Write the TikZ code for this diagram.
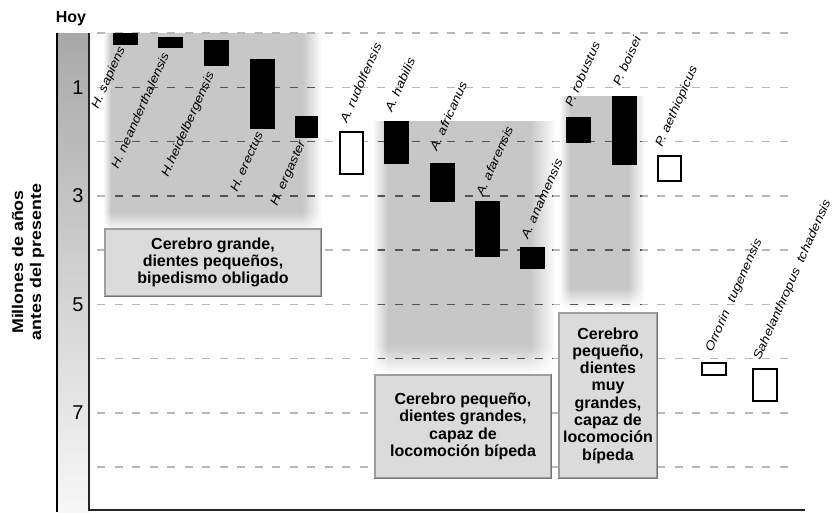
\documentclass[tikz,border=0pt]{standalone}
\usepackage{fontspec}
\setmainfont{Liberation Sans}
\usepackage{graphicx}
\usetikzlibrary{shadings}
\definecolor{shc}{gray}{0.78}
\definecolor{boxc}{gray}{0.86}
\definecolor{boxline}{gray}{0.62}
\definecolor{boxshadow}{gray}{0.45}
\definecolor{gridlight}{gray}{0.72}
\definecolor{griddark}{gray}{0.33}
\tikzset{
  gridl/.style={line width=1.5pt, dash pattern=on 8pt off 9.5pt},
  blackbar/.style={fill=black},
  openbar/.style={draw=black, line width=1.8pt, fill=white},
  lab/.style={rotate=66, anchor=base west, inner sep=0pt, font=\fontsize{12}{14}\selectfont\itshape},
  infobox/.style={draw=boxline, line width=1.2pt, fill=boxc, align=center, inner sep=0pt,
     font=\fontsize{16}{17.3}\selectfont\bfseries},
  boxedge/.style={draw=boxshadow, line width=1.6pt},
  tick/.style={font=\fontsize{20}{22}\selectfont, inner sep=0pt}
}
\newcommand\slab[1]{\scalebox{1.18}[1]{#1}}
% region with faded left, right and bottom edges
% #1 x1, #2 x1 inner, #3 x2 inner, #4 x2, #5 y1, #6 y2 inner, #7 y2
\newcommand\fadedregion[7]{%
  \fill[shc] (#2,#5) rectangle (#3,#6);
  \shade[left color=white, right color=shc] (#1,#5) rectangle (#2,#6);
  \shade[left color=shc, right color=white] (#3,#5) rectangle (#4,#6);
  \shade[top color=shc, bottom color=white] (#2,#6) rectangle (#3,#7);
  \shade[upper right=shc, upper left=white, lower left=white, lower right=white] (#1,#6) rectangle (#2,#7);
  \shade[upper left=shc, upper right=white, lower left=white, lower right=white] (#3,#6) rectangle (#4,#7);
}
\begin{document}
\begin{tikzpicture}[x=1pt,y=-1pt]
\useasboundingbox (0,0) rectangle (833,512);
% axis bar
\shade[top color=gray!68, bottom color=gray!6] (57,33) rectangle (89,512);
\draw[line width=1.2pt] (57,33) -- (57,512);
\draw[line width=1.8pt, black!85] (89,33) -- (89,510) -- (805,510);
% shaded regions
\fadedregion{103}{111}{302}{322}{33}{212}{232}
\fadedregion{372}{388}{530}{556}{121}{345}{374}
\fadedregion{559}{570}{628}{645}{96}{288}{308}
% grid lines
\foreach \t in {0,...,8}{
  \draw[gridl, gridlight] (97,33+54.25*\t) -- (792,33+54.25*\t);
}
\begin{scope}
\clip (107,36) rectangle (320,232) (378,121) rectangle (553,372) (562,96) rectangle (642,306);
\foreach \t in {0,...,8}{
  \draw[gridl, griddark] (97,33+54.25*\t) -- (792,33+54.25*\t);
}
\end{scope}
% axis labels
\node[font=\fontsize{16}{18}\selectfont\bfseries, inner sep=0pt] (hoy) at (71,19) {Hoy};
\node[tick] (t1) at (78,87.25) {1};
\node[tick] (t3) at (78,195.75) {3};
\node[tick] (t5) at (78,304.25) {5};
\node[tick] (t7) at (78,412.75) {7};
\node[rotate=90, align=center, inner sep=0pt, font=\fontsize{15.5}{18}\selectfont\bfseries] (ylab) at (28,262)
  {\scalebox{1.15}[1]{Millones de años}\\\scalebox{1.15}[1]{antes del presente}};
% boxes
\node[infobox, minimum width=216pt, minimum height=67pt] (b1) at (213,262.5)
  {Cerebro grande,\\dientes pequeños,\\bipedismo obligado};
\node[infobox, minimum width=176pt, minimum height=103pt] (b2) at (463,426.5)
  {Cerebro pequeño,\\dientes grandes,\\capaz de\\locomoción bípeda};
\node[infobox, minimum width=98pt, minimum height=165pt] (b3) at (608,395.5)
  {Cerebro\\pequeño,\\dientes\\muy\\grandes,\\capaz de\\locomoción\\bípeda};
\foreach \b in {b1,b2,b3}{
  \draw[boxedge] (\b.north east) -- (\b.south east) -- (\b.south west);
}
% bars
\fill[blackbar] (113,33) rectangle (138,45);
\fill[blackbar] (158,37) rectangle (183,48);
\fill[blackbar] (204,40) rectangle (229,66);
\fill[blackbar] (250,59) rectangle (275,129);
\fill[blackbar] (295,116) rectangle (318,138);
\draw[openbar] (340,132) rectangle (363,174);
\fill[blackbar] (384,121) rectangle (409,164);
\fill[blackbar] (430,163) rectangle (455,202);
\fill[blackbar] (475,201) rectangle (500,257);
\fill[blackbar] (520,247) rectangle (545,269);
\fill[blackbar] (566,117) rectangle (591,143);
\fill[blackbar] (612,96) rectangle (637,165);
\draw[openbar] (658,156) rectangle (681,181);
\draw[openbar] (702,363) rectangle (726,375);
\draw[openbar] (753,369) rectangle (777,401);
% species labels
\node[lab] (l1) at (98,110) {\slab{H. sapiens}};
\node[lab] (l2) at (118,170) {\slab{H. neanderthalensis}};
\node[lab] (l3) at (168,178) {\slab{H.heidelbergensis}};
\node[lab] (l4) at (237,193) {\slab{H. erectus}};
\node[lab] (l5) at (277,207) {\slab{H. ergaster}};
\node[lab] (l6) at (347,124) {\slab{A. rudolfensis}};
\node[lab] (l7) at (392,113) {\slab{A. habilis}};
\node[lab] (l8) at (437,152) {\slab{A. africanus}};
\node[lab] (l9) at (483,197) {\slab{A. afarensis}};
\node[lab] (l10) at (528,240) {\slab{A. anamensis}};
\node[lab] (l11) at (572,108) {\slab{P. robustus}};
\node[lab] (l12) at (620,87) {\slab{P. boisei}};
\node[lab] (l13) at (662,148) {\slab{P. aethiopicus}};
\node[lab] (l14) at (712,353) {\slab{Orrorin\hspace{0.7em}tugenensis}};
\node[lab] (l15) at (760,361) {\slab{Sahelanthropus\hspace{0.5em}tchadensis}};
\end{tikzpicture}
\end{document}
